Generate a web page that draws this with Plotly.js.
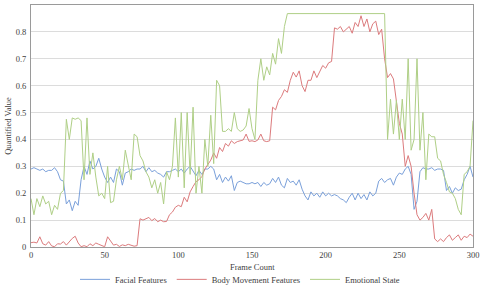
<!DOCTYPE html>
<html>
<head>
<meta charset="utf-8">
<script src="https://cdn.plot.ly/plotly-3.0.1.min.js"></script>
<style>html,body{margin:0;padding:0;background:#fff;}#chart{width:480px;height:288px;}</style>
</head>
<body>
<div id="chart"></div>
<script>
const frames = [0,2,4,6,8,10,12,14,16,18,20,22,24,26,28,30,32,34,36,38,40,42,44,46,48,50,52,54,56,58,60,62,64,66,68,70,72,74,76,78,80,82,84,86,88,90,92,94,96,98,100,102,104,106,108,110,112,114,116,118,120,122,124,126,128,130,132,134,136,138,140,142,144,146,148,150,152,154,156,158,160,162,164,166,168,170,172,174,176,178,180,182,184,186,188,190,192,194,196,198,200,202,204,206,208,210,212,214,216,218,220,222,224,226,228,230,232,234,236,238,240,242,244,246,248,250,252,254,256,258,260,262,264,266,268,270,272,274,276,278,280,282,284,286,288,290,292,294,296,298,300];

const facial = [0.29,0.295,0.29,0.285,0.29,0.28,0.285,0.285,0.295,0.28,0.25,0.245,0.16,0.175,0.135,0.17,0.155,0.25,0.30,0.27,0.32,0.29,0.30,0.33,0.29,0.26,0.24,0.26,0.24,0.29,0.28,0.23,0.275,0.28,0.29,0.285,0.29,0.29,0.30,0.28,0.295,0.28,0.285,0.275,0.27,0.26,0.28,0.28,0.285,0.29,0.28,0.29,0.275,0.29,0.30,0.28,0.265,0.285,0.27,0.29,0.29,0.30,0.29,0.25,0.27,0.24,0.26,0.245,0.265,0.21,0.24,0.245,0.24,0.235,0.235,0.24,0.235,0.24,0.225,0.24,0.23,0.235,0.255,0.24,0.26,0.23,0.22,0.255,0.24,0.245,0.23,0.25,0.215,0.19,0.175,0.205,0.19,0.2,0.185,0.205,0.19,0.2,0.19,0.195,0.19,0.18,0.175,0.165,0.185,0.2,0.175,0.2,0.18,0.195,0.175,0.205,0.19,0.2,0.245,0.255,0.24,0.25,0.255,0.23,0.26,0.275,0.27,0.29,0.30,0.27,0.14,0.17,0.28,0.295,0.29,0.29,0.295,0.285,0.29,0.29,0.285,0.21,0.225,0.20,0.22,0.21,0.215,0.25,0.27,0.30,0.26];

const body = [0.016,0.018,0.015,0.038,0.012,0.007,0.02,0.004,0.001,0.012,0.011,0.02,0.007,0.02,0.032,0.04,0.015,0.001,0.005,0.001,0.012,0.005,0.015,0.01,0.006,0.001,0.038,0.02,0.007,0.01,0.002,0.008,0.005,0.01,0.006,0.003,0.005,0.105,0.10,0.105,0.11,0.098,0.106,0.094,0.10,0.094,0.095,0.12,0.13,0.148,0.155,0.15,0.185,0.168,0.205,0.225,0.243,0.25,0.262,0.29,0.305,0.323,0.35,0.33,0.37,0.355,0.385,0.375,0.395,0.385,0.392,0.395,0.398,0.42,0.393,0.395,0.392,0.398,0.42,0.395,0.392,0.395,0.52,0.51,0.545,0.56,0.585,0.575,0.62,0.65,0.632,0.655,0.60,0.578,0.62,0.62,0.655,0.63,0.65,0.675,0.665,0.685,0.69,0.815,0.81,0.82,0.80,0.81,0.82,0.795,0.835,0.82,0.86,0.82,0.848,0.80,0.83,0.84,0.79,0.81,0.70,0.63,0.645,0.625,0.55,0.46,0.42,0.30,0.34,0.30,0.20,0.12,0.10,0.11,0.125,0.10,0.14,0.03,0.02,0.03,0.02,0.035,0.045,0.025,0.035,0.045,0.025,0.04,0.035,0.048,0.04];

const emotional = [0.18,0.12,0.18,0.15,0.19,0.16,0.17,0.12,0.155,0.14,0.20,0.21,0.475,0.40,0.48,0.475,0.48,0.47,0.25,0.48,0.27,0.35,0.26,0.19,0.20,0.18,0.30,0.165,0.17,0.25,0.30,0.25,0.36,0.30,0.25,0.42,0.41,0.34,0.32,0.28,0.26,0.22,0.25,0.20,0.24,0.16,0.28,0.25,0.30,0.48,0.26,0.50,0.22,0.50,0.27,0.52,0.20,0.30,0.20,0.40,0.30,0.49,0.31,0.62,0.60,0.43,0.43,0.44,0.43,0.50,0.44,0.43,0.435,0.45,0.515,0.44,0.40,0.62,0.70,0.62,0.67,0.64,0.72,0.68,0.775,0.72,0.82,0.868,0.868,0.868,0.868,0.868,0.868,0.868,0.868,0.868,0.868,0.868,0.868,0.868,0.868,0.868,0.868,0.868,0.868,0.868,0.868,0.868,0.868,0.868,0.868,0.868,0.868,0.868,0.868,0.868,0.868,0.868,0.868,0.868,0.868,0.40,0.55,0.42,0.545,0.40,0.55,0.40,0.70,0.36,0.40,0.70,0.36,0.50,0.25,0.42,0.41,0.41,0.33,0.32,0.27,0.24,0.205,0.20,0.18,0.14,0.12,0.27,0.28,0.30,0.47];

const seriesNames = ['Facial Features','Body Movement Features','Emotional State'];
const seriesColors = ['#7aa0da','#dc7b7d','#afcf86'];
const seriesData = [facial, body, emotional];
const xTitle = 'Frame Count';
const yTitle = 'Quantified Value';

const traces = seriesData.map((d, i) => ({
  x: frames, y: d, type: 'scatter', mode: 'lines', name: seriesNames[i],
  line: {color: seriesColors[i], width: 1}
}));

const font = {family: '"Liberation Serif", "Times New Roman", serif', size: 8.5, color: '#404040'};

const layout = {
  width: 480, height: 288,
  margin: {l: 31, r: 7, t: 5, b: 41},
  paper_bgcolor: '#fff', plot_bgcolor: '#fff',
  font: font,
  showlegend: true,
  legend: {orientation: 'h', x: 0.5, xanchor: 'center', xref: 'container', y: 0.03, yanchor: 'middle', yref: 'container', font: font, itemwidth: 30, tracegroupgap: 0},
  xaxis: {
    range: [0, 300], dtick: 50, tick0: 0, showgrid: false, zeroline: false,
    showline: true, linecolor: '#9a9a9a', linewidth: 1, mirror: true,
    ticks: '', tickfont: font
  },
  yaxis: {
    range: [0, 0.9], dtick: 0.1, tick0: 0, showgrid: true, gridcolor: '#dcdcdc', gridwidth: 1,
    zeroline: false, showline: true, linecolor: '#9a9a9a', linewidth: 1, mirror: true,
    ticks: '', tickfont: font, ticklabelstandoff: 2,
    title: {text: yTitle, font: font, standoff: 2}
  },
  annotations: [{
    text: xTitle, xref: 'paper', yref: 'paper', x: 0.5, y: -0.083,
    xanchor: 'center', yanchor: 'middle', showarrow: false, font: font
  }]
};

Plotly.newPlot('chart', traces, layout, {displayModeBar: false, staticPlot: true});
</script>
</body>
</html>
